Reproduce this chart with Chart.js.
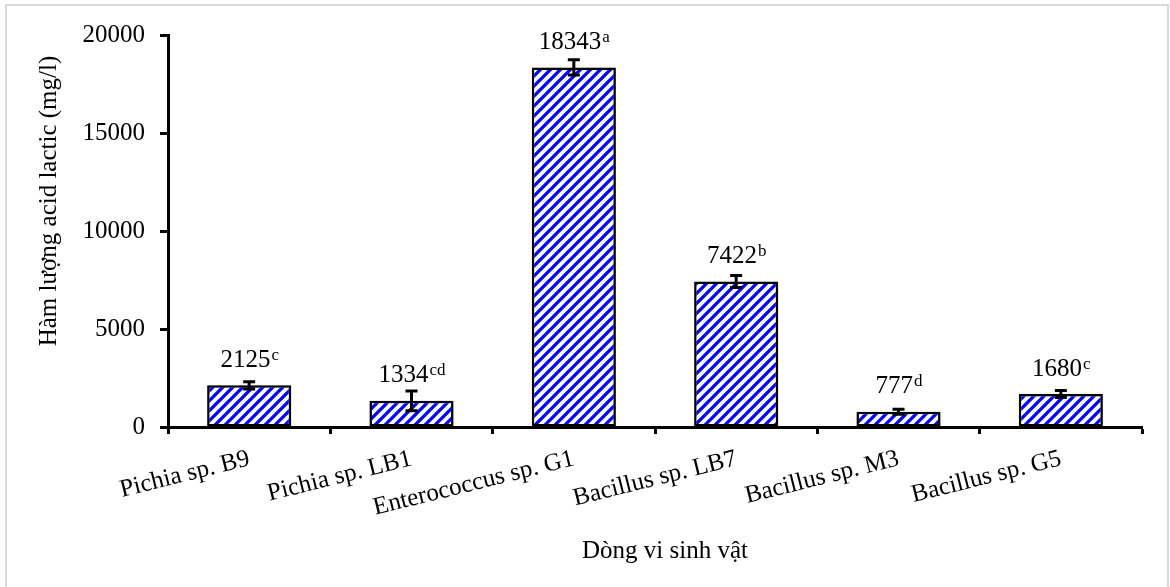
<!DOCTYPE html>
<html>
<head>
<meta charset="utf-8">
<script src="https://cdn.jsdelivr.net/npm/chart.js@4.4.1/dist/chart.umd.min.js"></script>
<style>
    html, body { margin: 0; padding: 0; background: #fff; }
    #wrap { position: relative; width: 1170px; height: 587px; overflow: hidden; }
    #frame {
        position: absolute; left: 5px; top: 4px; width: 1160px; height: 700px;
        border: 2px solid #d9d9d9; border-bottom: none; pointer-events: none;
    }
    canvas { position: absolute; left: 0; top: 0; }
</style>
</head>
<body>
<div id="wrap">
    <div id="frame"></div>
    <canvas id="chart" width="1170" height="587"></canvas>
</div>
<script>
// data
const strains = ['Pichia sp. B9', 'Pichia sp. LB1', 'Enterococcus sp. G1', 'Bacillus sp. LB7', 'Bacillus sp. M3', 'Bacillus sp. G5'];
const lacticAcid = [2125, 1334, 18343, 7422, 777, 1680];
const errors = [180, 500, 390, 310, 130, 180];
const groups = ['c', 'cd', 'a', 'b', 'd', 'c'];
const yTicks = [0, 5000, 10000, 15000, 20000];

const FONT = '"Liberation Serif", "Times New Roman", serif';

// blue diagonal hatch
function makeHatch() {
    const c = document.createElement('canvas');
    c.width = 10; c.height = 10;
    const g = c.getContext('2d');
    g.fillStyle = '#fff';
    g.fillRect(0, 0, 10, 10);
    g.strokeStyle = '#0000ff';
    g.lineWidth = 3.3;
    g.beginPath();
    g.moveTo(-2, 12); g.lineTo(12, -2);
    g.moveTo(-2, 2); g.lineTo(2, -2);
    g.moveTo(8, 12); g.lineTo(12, 8);
    g.stroke();
    return g.createPattern(c, 'repeat');
}

const canvas = document.getElementById('chart');
const hatch = makeHatch();

const barShadow = {
    id: 'barShadow',
    beforeDatasetDraw(chart) {
        const ctx = chart.ctx;
        ctx.save();
        ctx.shadowColor = 'rgba(0,0,0,0.25)';
        ctx.shadowBlur = 4;
        ctx.shadowOffsetX = 2;
        ctx.shadowOffsetY = 1;
    },
    afterDatasetDraw(chart) {
        chart.ctx.restore();
    }
};

const extras = {
    id: 'extras',
    afterDatasetsDraw(chart) {
        const ctx = chart.ctx;
        const y = chart.scales.y;
        const meta = chart.getDatasetMeta(0);
        ctx.save();
        // error bars
        ctx.strokeStyle = '#000';
        ctx.lineWidth = 3;
        meta.data.forEach((bar, i) => {
            const top = y.getPixelForValue(lacticAcid[i] + errors[i]);
            const bot = y.getPixelForValue(lacticAcid[i] - errors[i]);
            ctx.beginPath();
            ctx.moveTo(bar.x, top); ctx.lineTo(bar.x, bot);
            ctx.moveTo(bar.x - 6, top); ctx.lineTo(bar.x + 6, top);
            ctx.moveTo(bar.x - 6, bot); ctx.lineTo(bar.x + 6, bot);
            ctx.stroke();
        });
        // value labels with superscript letters
        ctx.fillStyle = '#000';
        ctx.textBaseline = 'alphabetic';
        ctx.textAlign = 'left';
        meta.data.forEach((bar, i) => {
            const num = String(lacticAcid[i]);
            const sup = groups[i];
            ctx.font = '25px ' + FONT;
            const wn = ctx.measureText(num).width;
            ctx.font = '17px ' + FONT;
            const ws = ctx.measureText(sup).width;
            const x0 = bar.x - (wn + ws) / 2;
            const base = bar.y - 18.5;
            ctx.font = '25px ' + FONT;
            ctx.fillText(num, x0, base);
            ctx.font = '17px ' + FONT;
            ctx.fillText(sup, x0 + wn + 1, base - 7);
        });
        // axis titles
        ctx.font = '25px ' + FONT;
        ctx.textAlign = 'center';
        ctx.textBaseline = 'middle';
        ctx.fillText('Dòng vi sinh vật', 665, 551);
        ctx.translate(49, 201);
        ctx.rotate(-Math.PI / 2);
        ctx.fillText('Hàm lượng acid lactic (mg/l)', 0, 0);
        ctx.restore();
    }
};

new Chart(canvas, {
    type: 'bar',
    data: {
        labels: strains,
        datasets: [{
            data: lacticAcid,
            backgroundColor: hatch,
            borderColor: '#000',
            borderWidth: 2.5,
            borderSkipped: false,
            categoryPercentage: 1,
            barPercentage: 0.518
        }]
    },
    options: {
        responsive: false,
        animation: false,
        devicePixelRatio: 1,
        layout: { padding: { left: 0, top: 35, right: 28, bottom: 0 } },
        plugins: {
            legend: { display: false },
            tooltip: { enabled: false }
        },
        scales: {
            x: {
                afterFit(scale) { scale.height = 160; },
                grid: {
                    offset: true,
                    drawOnChartArea: false,
                    drawTicks: true,
                    tickLength: 7,
                    tickWidth: 3,
                    tickColor: '#000'
                },
                border: { color: '#000', width: 3 },
                ticks: {
                    color: '#000',
                    font: { family: FONT, size: 25 },
                    autoSkip: false,
                    minRotation: 14,
                    maxRotation: 14,
                    padding: 10
                }
            },
            y: {
                min: 0,
                max: 20000,
                afterFit(scale) { scale.width = 168; },
                afterBuildTicks(scale) { scale.ticks = yTicks.map(v => ({ value: v })); },
                grid: {
                    drawOnChartArea: false,
                    drawTicks: true,
                    tickLength: 8,
                    tickWidth: 3,
                    tickColor: '#000'
                },
                border: { color: '#000', width: 3 },
                ticks: {
                    color: '#000',
                    font: { family: FONT, size: 25 },
                    padding: 15,
                    callback: function (value) {
                        return String(value);
                    }
                }
            }
        }
    },
    plugins: [barShadow, extras]
});
</script>
</body>
</html>
